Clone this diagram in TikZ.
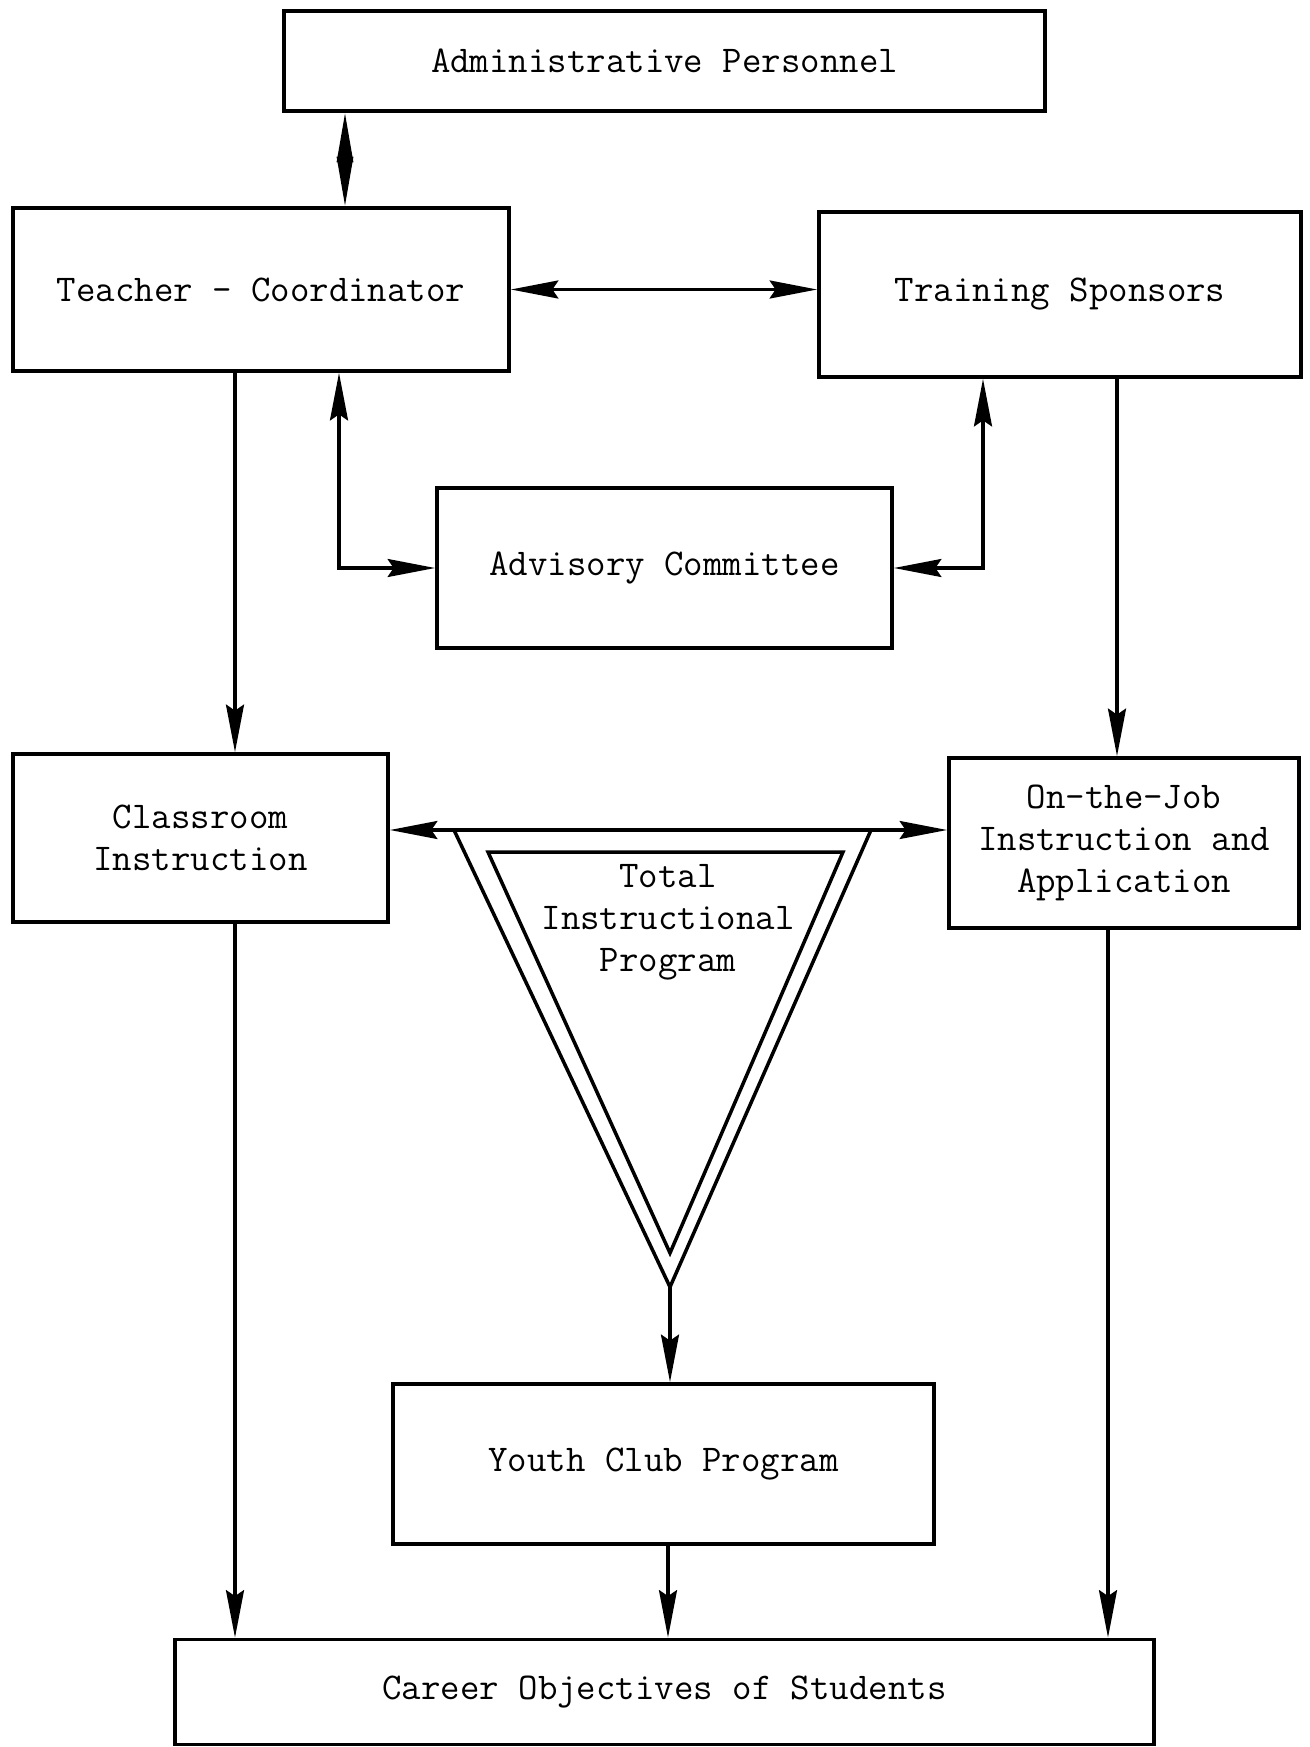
\documentclass[tikz,border=0pt]{standalone}
\usepackage{tikz}
\usetikzlibrary{arrows.meta}

\tikzset{
    unit/.style={draw=black, line width=2.2pt, inner sep=0pt, align=center, font=\ttfamily\fontsize{21.5}{24}\selectfont},
    tag/.style={inner sep=0pt, align=center, font=\ttfamily\fontsize{21.5}{24}\selectfont}
}

\begin{document}
\begin{tikzpicture}[x=0.02cm, y=-0.02cm, line width=1.8pt, >={Stealth[length=0.95cm, width=0.36cm, inset=0.12cm]}]
        \useasboundingbox (0,0) rectangle (1309,1747);

        \node(admin) [unit, minimum width=15.22cm, minimum height=2cm] at (664.5, 61) {Administrative Personnel};
        \node(teacher) [unit, minimum width=9.92cm, minimum height=3.26cm] at (261, 289.5) {Teacher - Coordinator};
        \node(sponsors) [unit, minimum width=9.64cm, minimum height=3.3cm] at (1060, 294.5) {Training Sponsors};
        \node(advisory) [unit, minimum width=9.1cm, minimum height=3.2cm] at (664.5, 568) {Advisory Committee};

        \node(classroom) [unit, minimum width=7.5cm, minimum height=3.36cm] at (200.5, 838) {Classroom\\Instruction};
        \node(onjob) [unit, minimum width=7cm, minimum height=3.4cm] at (1124, 843) {On-the-Job\\Instruction and\\Application};

        \node(youth) [unit, minimum width=10.82cm, minimum height=3.2cm] at (663.5, 1464) {Youth Club Program};
        \node(career) [unit, minimum width=19.58cm, minimum height=2.1cm] at (664.5, 1692) {Career Objectives of Students};

        \coordinate(tl) at (454, 830);
        \coordinate(tr) at (871, 830);
        \coordinate(tb) at (670, 1287);
        \node(total) [tag] at (668, 922) {Total\\Instructional\\Program};
        \draw[line width=2pt] (tl) -- (tb) -- (tr);
        \draw[line width=2pt] (488, 852) -- (843, 852) -- (670, 1253) -- cycle;

        \coordinate(ct) at (345, 0);
        \coordinate(cl) at (235, 0);
        \coordinate(ca) at (339, 0);
        \coordinate(cb) at (983, 0);
        \coordinate(cr) at (1117, 0);
        \coordinate(cm) at (668, 0);
        \coordinate(cs) at (1108, 0);

        \draw[<->, >={Stealth[length=0.99cm, width=0.32cm, inset=0pt]}] (teacher.north -| ct) -- (admin.south -| ct);
        \draw[<->] (teacher.east) -- (teacher.east -| sponsors.west);

        \draw[->] (teacher.south -| cl) -- (classroom.north -| cl);
        \draw[<->] (teacher.south -| ca) |- (advisory.west);
        \draw[<->] (sponsors.south -| cb) |- (advisory.east);
        \draw[->] (sponsors.south -| cr) -- (onjob.north -| cr);

        \draw[<->] (classroom.east |- tl) -- (onjob.west |- tl);
        \draw[->] (tb) -- (youth.north -| tb);

        \draw[->] (classroom.south -| cl) -- (career.north -| cl);
        \draw[->] (youth.south -| cm) -- (career.north -| cm);
        \draw[->] (onjob.south -| cs) -- (career.north -| cs);
    \end{tikzpicture}
\end{document}
